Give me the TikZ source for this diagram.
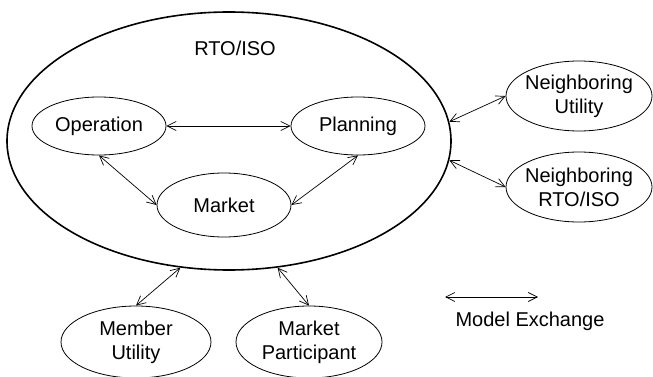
\documentclass[tikz,border=0pt]{standalone}
\usepackage{fontspec}
\setmainfont{Liberation Sans}
\usetikzlibrary{shapes.geometric,arrows.meta}
\begin{document}
\begin{tikzpicture}[x=1pt,y=-1pt,
  font=\fontsize{20}{24}\selectfont,
  outer/.style={draw,ellipse,line width=1.6pt,inner sep=0pt,
    minimum width=444pt,minimum height=258pt},
  unit/.style={draw,ellipse,line width=0.8pt,inner sep=0pt,
    minimum width=134pt,minimum height=58pt},
  party/.style={draw,ellipse,line width=0.8pt,inner sep=0pt,
    minimum width=146pt,minimum height=70pt},
  caption/.style={align=center,inner sep=0pt},
  exchange/.style={line width=0.7pt,
    {Straight Barb[length=9pt,width=9pt]}-{Straight Barb[length=9pt,width=9pt]}}]
\useasboundingbox (0,0) rectangle (653,377);

% RTO/ISO and its three functions
\node[outer] (rto) at (229,141) {};
\node[caption] (rtotext) at (235,48) {RTO/ISO};
\node[unit] (op) at (99,126) {Operation};
\node[unit] (pl) at (358,126) {Planning};
\node[unit,minimum height=64pt] (mk) at (224,205) {Market};

% outside parties
\node[party,label={[caption]center:Neighboring\\Utility}] (nu) at (579,96) {};
\node[party,label={[caption]center:Neighboring\\RTO/ISO}] (nr) at (579,187) {};
\node[party,minimum width=150pt,minimum height=72pt,
  label={[caption]center:Member\\Utility}] (mu) at (136,342) {};
\node[party,minimum height=72pt,
  label={[caption]center:Market\\Participant}] (mp) at (309,342) {};

% model exchanges
\draw[exchange] (op.east) -- (pl.west);
\draw[exchange] (op.south) -- (mk.west);
\draw[exchange] (pl.south) -- (mk.east);
\draw[exchange] (rto.5) -- (nu.west);
\draw[exchange] (rto.-5) -- (nr.west);
\draw[exchange] (rto.249) -- (mu.north);
\draw[exchange] (rto.291) -- (mp.north);

% legend
\coordinate (lga) at (445,297);
\coordinate (lgb) at (538,297);
\draw[exchange] (lga) -- (lgb);
\node[caption] (lgtext) at (530,321) {Model Exchange};
\end{tikzpicture}
\end{document}
